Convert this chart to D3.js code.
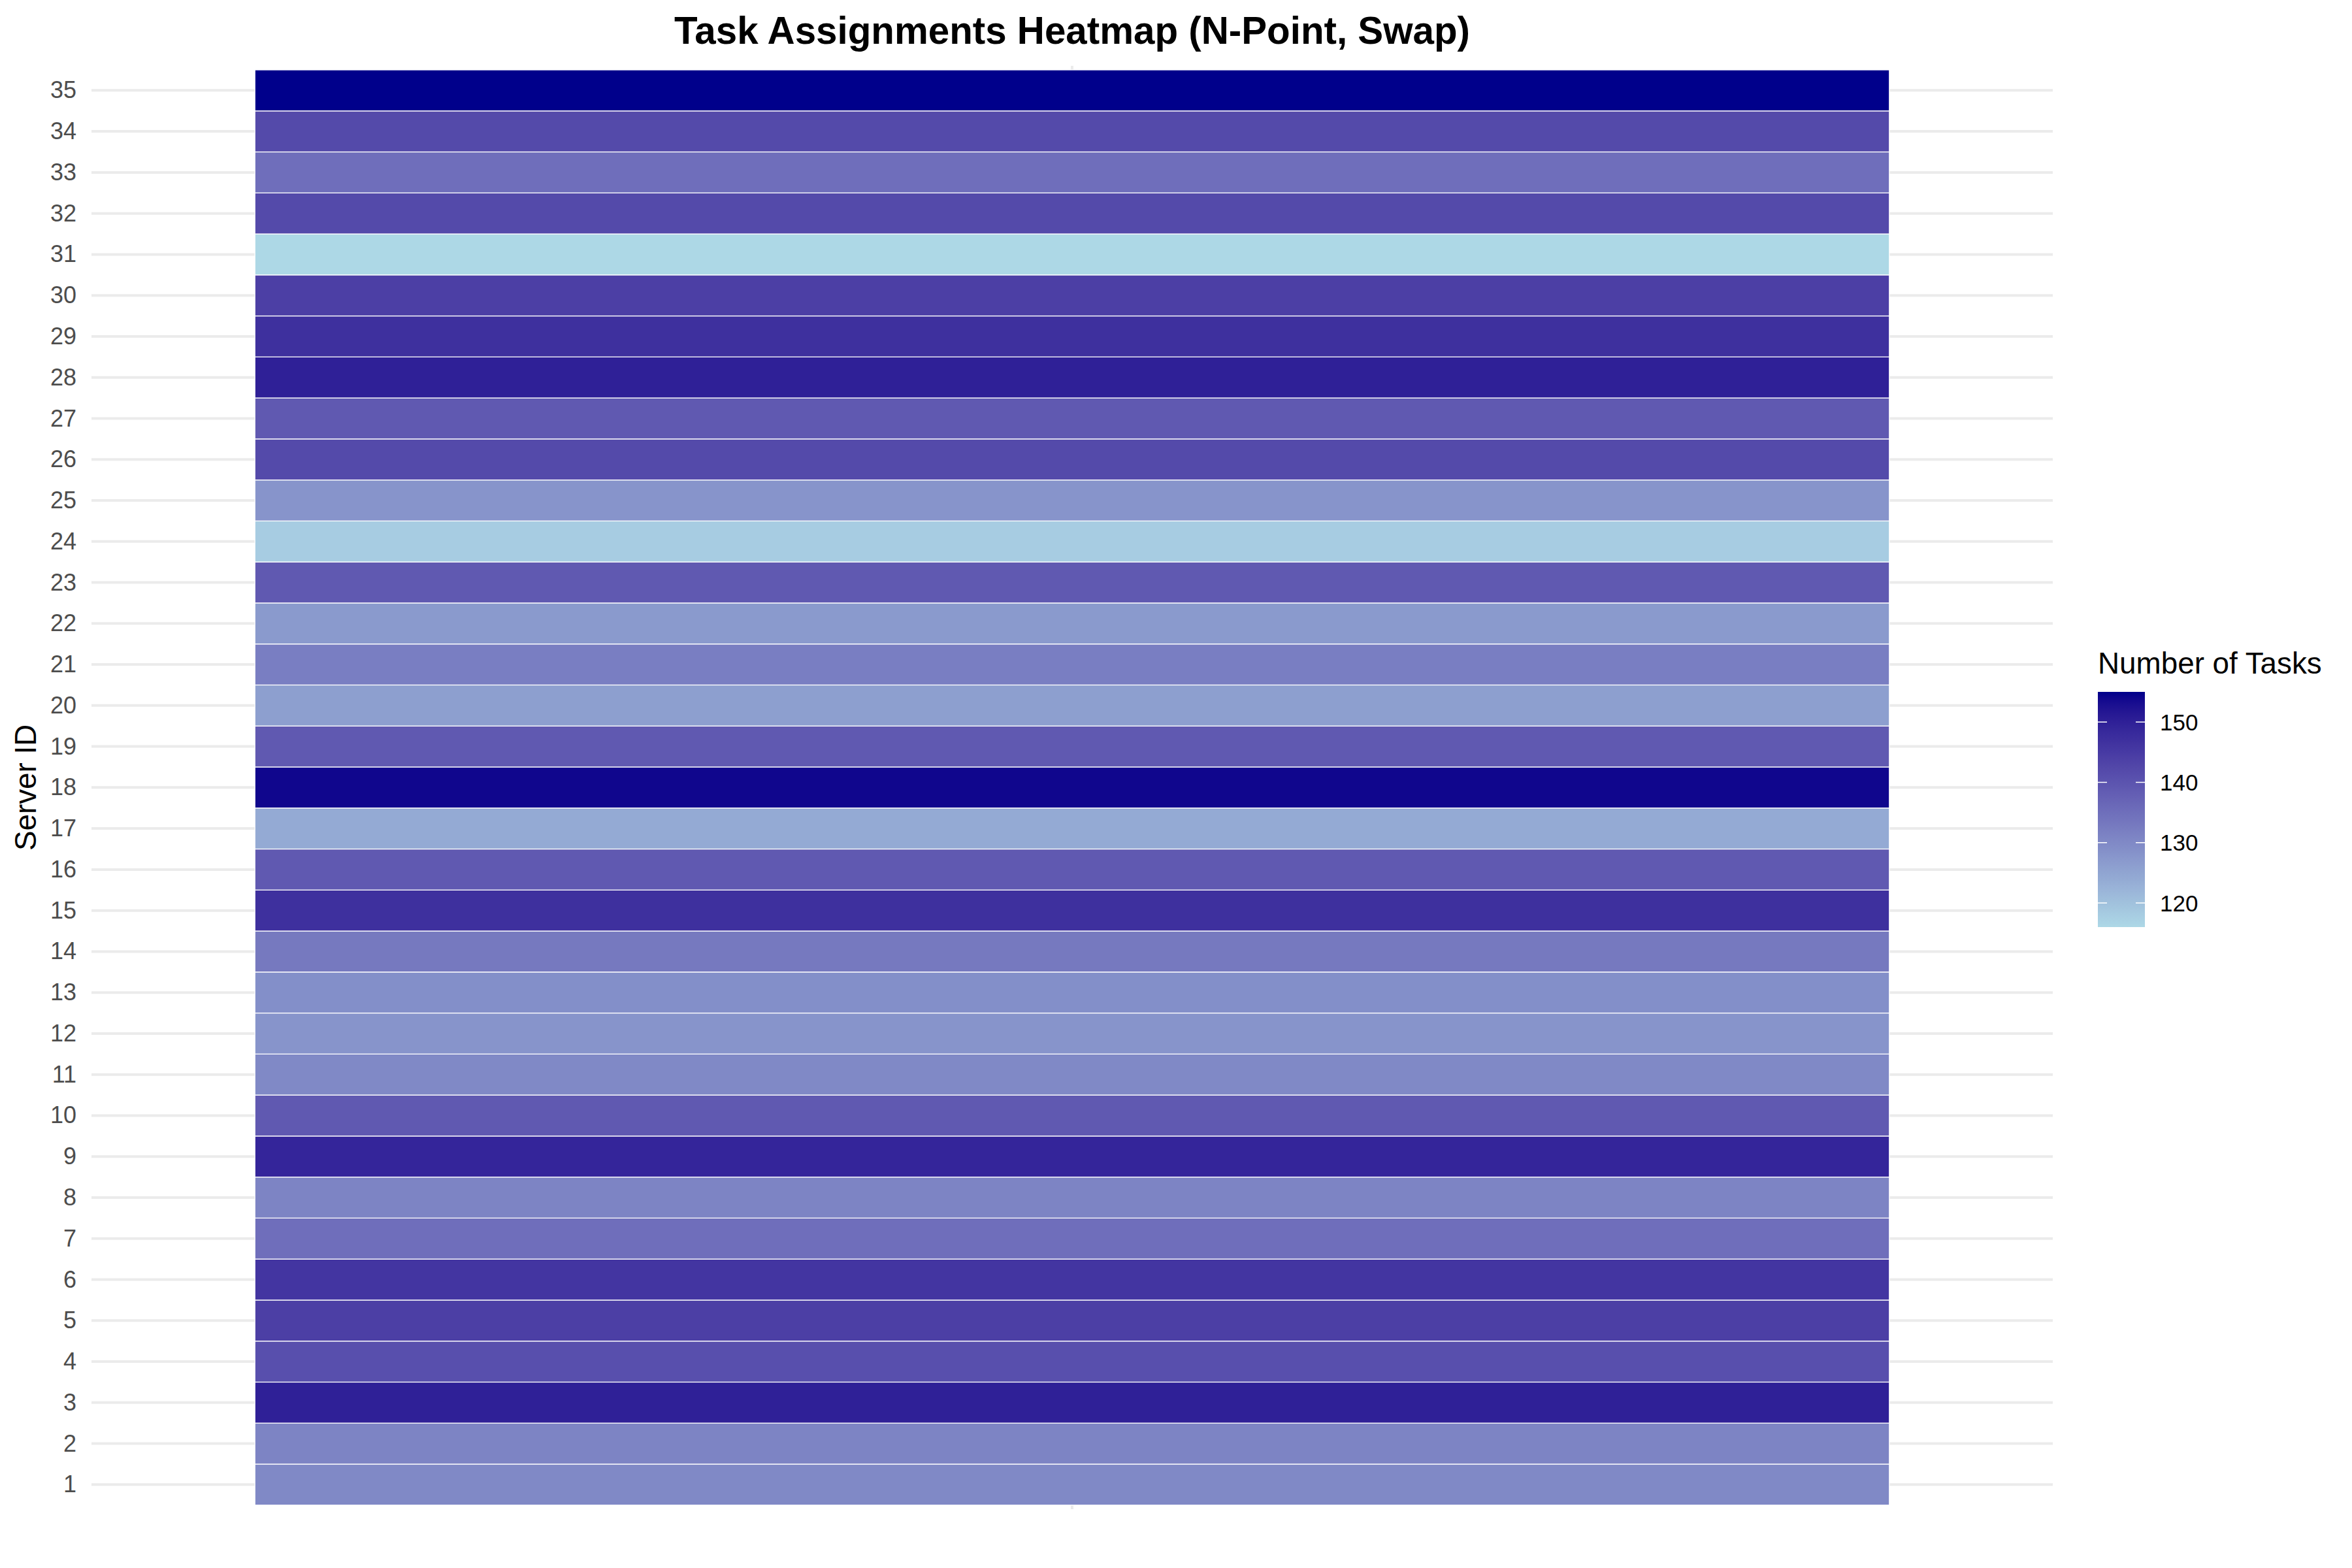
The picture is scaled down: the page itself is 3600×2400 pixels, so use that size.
<!DOCTYPE html>
<html>
<head>
<meta charset="utf-8">
<script src="https://cdn.jsdelivr.net/npm/d3@7"></script>
<style>
  html, body { margin: 0; padding: 0; background: #ffffff; }
  svg { display: block; }
  text { font-family: "Liberation Sans", Arial, Helvetica, sans-serif; }
</style>
</head>
<body>
<script>
// ---- data ----
const serverIds = [1,2,3,4,5,6,7,8,9,10,11,12,13,14,15,16,17,18,19,20,21,22,23,24,25,26,27,28,29,30,31,32,33,34,35];
const taskCounts = [130,131,150,141,144,146,135,131,149,139,130,128,129,133,147,139,124,154,139,126,132,127,139,118,128,142,139,150,147,144,116,142,135,142,155];
const legendTicks = [120,130,140,150];
const chartTitle = "Task Assignments Heatmap (N-Point, Swap)";
const yTitle = "Server ID";
const legendTitle = "Number of Tasks";

const data = serverIds.map((id, i) => ({ id, x: 1, value: taskCounts[i] }));

// ---- layout ----
const W = 3600, H = 2400;
const panel = { left: 140, right: 3142, top: 100.7, bottom: 2310 };

const svg = d3.select("body").append("svg")
  .attr("width", W).attr("height", H)
  .attr("viewBox", `0 0 ${W} ${H}`);
svg.append("rect").attr("width", W).attr("height", H).attr("fill", "#ffffff");

const x = d3.scaleLinear().domain([0.4, 1.6]).range([panel.left, panel.right]);
const y = d3.scaleLinear().domain([0.4, 35.6]).range([panel.bottom, panel.top]);

const vmin = d3.min(taskCounts), vmax = d3.max(taskCounts);
const color = d3.scaleLinear().domain([vmin, vmax])
  .range(["lightblue", "darkblue"]).interpolate(d3.interpolateLab);

// ---- gridlines ----
const grid = svg.append("g");
grid.selectAll("line.h").data(serverIds).join("line")
  .attr("class", "h")
  .attr("x1", panel.left).attr("x2", panel.right)
  .attr("y1", d => y(d)).attr("y2", d => y(d))
  .attr("stroke", "#EBEBEB").attr("stroke-width", 4);
grid.append("line")
  .attr("x1", x(1)).attr("x2", x(1))
  .attr("y1", panel.top).attr("y2", panel.bottom)
  .attr("stroke", "#EBEBEB").attr("stroke-width", 4);

// ---- tiles ----
svg.append("g").selectAll("rect").data(data).join("rect")
  .attr("x", d => x(d.x - 0.5))
  .attr("width", d => x(d.x + 0.5) - x(d.x - 0.5))
  .attr("y", d => y(d.id + 0.5))
  .attr("height", d => y(d.id - 0.5) - y(d.id + 0.5))
  .attr("fill", d => color(d.value))
  .attr("stroke", "#ffffff").attr("stroke-width", 1.3);

// ---- y axis labels ----
const yAxis = d3.axisLeft(y).tickValues(serverIds).tickSize(0).tickPadding(23)
  .tickFormat(d3.format("d"));
const yg = svg.append("g").attr("transform", `translate(${panel.left},0)`).call(yAxis);
yg.select(".domain").remove();
yg.selectAll("text")
  .attr("font-size", 36)
  .attr("fill", "#4D4D4D")
  .attr("font-family", "Liberation Sans, Arial, Helvetica, sans-serif");

// ---- y title ----
svg.append("text")
  .attr("transform", `translate(55,${(panel.top + panel.bottom) / 2}) rotate(-90)`)
  .attr("text-anchor", "middle")
  .attr("font-size", 45.8)
  .attr("fill", "#000000")
  .text(yTitle);

// ---- title ----
svg.append("text")
  .attr("x", (panel.left + panel.right) / 2)
  .attr("y", 67)
  .attr("text-anchor", "middle")
  .attr("font-size", 58.3)
  .attr("font-weight", "bold")
  .attr("fill", "#000000")
  .text(chartTitle);

// ---- legend ----
const legX = 3211, legW = 72;
const ly = d3.scaleLinear().domain([vmin, vmax]).range([1419, 1059]);

svg.append("text")
  .attr("x", 3211).attr("y", 1031)
  .attr("font-size", 45.8)
  .attr("fill", "#000000")
  .text(legendTitle);

const defs = svg.append("defs");
const grad = defs.append("linearGradient")
  .attr("id", "lg").attr("x1", "0").attr("y1", "1").attr("x2", "0").attr("y2", "0");
const nStops = 40;
for (let i = 0; i <= nStops; i++) {
  const v = vmin + (vmax - vmin) * i / nStops;
  grad.append("stop").attr("offset", (i / nStops * 100) + "%").attr("stop-color", color(v));
}
svg.append("rect")
  .attr("x", legX).attr("width", legW)
  .attr("y", ly(vmax)).attr("height", ly(vmin) - ly(vmax))
  .attr("fill", "url(#lg)");

const lt = svg.append("g");
lt.selectAll("line.l").data(legendTicks).join("line").attr("class", "l")
  .attr("x1", legX).attr("x2", legX + 14)
  .attr("y1", d => ly(d)).attr("y2", d => ly(d))
  .attr("stroke", "#ffffff").attr("stroke-width", 1.5);
lt.selectAll("line.r").data(legendTicks).join("line").attr("class", "r")
  .attr("x1", legX + legW - 14).attr("x2", legX + legW)
  .attr("y1", d => ly(d)).attr("y2", d => ly(d))
  .attr("stroke", "#ffffff").attr("stroke-width", 1.5);
lt.selectAll("text").data(legendTicks).join("text")
  .attr("x", 3306)
  .attr("y", d => ly(d) + 12.5)
  .attr("font-size", 35)
  .attr("fill", "#000000")
  .text(d => d);
</script>
</body>
</html>
